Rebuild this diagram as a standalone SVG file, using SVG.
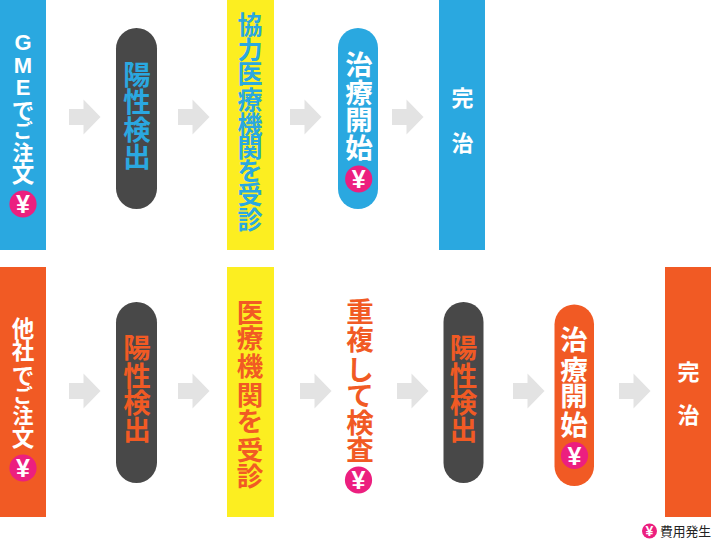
<svg xmlns="http://www.w3.org/2000/svg" width="711" height="540" viewBox="0 0 711 540" lang="ja">
<style>
text{font-family:"Noto Sans CJK JP","Noto Sans",sans-serif;font-weight:700;text-anchor:middle}
.b{fill:#2aa8e0}.o{fill:#f15a24}.y{fill:#fcee21}.d{fill:#484848}.p{fill:#ec1f7f}
.w{fill:#fff}.tb{fill:#2aa8e0}.to{fill:#f15a24}
.f27{font-size:27.500px}.f26{font-size:26.500px}.f25{font-size:25px}.f22{font-size:22.500px}.f21{font-size:22px}
.yen{font-family:"Liberation Sans",Arial,sans-serif;font-size:25px;fill:#fff}
.lat{font-family:"Liberation Sans",Arial,sans-serif;font-size:22px}
.a{fill:#e3e3e3}
</style>
<defs>
<path id="arr" d="M0-8H14.500V-17.500L31.500 0 14.500 17.500V8H0Z"/>
<g id="yc"><circle r="13.600" class="p"/><text y="9" class="yen">¥</text></g>
</defs>
<g id="connectors" class="a">
<use href="#arr" x="69" y="117"/><use href="#arr" x="178" y="117"/><use href="#arr" x="290" y="117"/><use href="#arr" x="392" y="117"/>
<use href="#arr" x="69" y="391"/><use href="#arr" x="178" y="391"/><use href="#arr" x="300" y="391"/><use href="#arr" x="397" y="391"/><use href="#arr" x="513" y="391"/><use href="#arr" x="619" y="391"/>
</g>
<g id="t1"><rect x="0" y="0" width="46" height="250" class="b"/>
<text class="w f22"><tspan class="lat" x="23" y="50">G</tspan><tspan class="lat" x="23" y="73">M</tspan><tspan class="lat" x="23" y="95">E</tspan><tspan x="23" y="118.500">で</tspan><tspan x="23" y="138" style="font-size:19.500px">ご</tspan><tspan x="23" y="159.500" style="font-size:21px">注</tspan><tspan x="23" y="182">文</tspan></text><use href="#yc" x="23" y="204"/></g>
<g id="t2"><rect x="116" y="28" width="41" height="181" rx="20.500" class="d"/>
<text x="137 137 137 137" y="85 111.500 140 167" class="tb f27">陽性検出</text></g>
<g id="t3"><rect x="227" y="0" width="47" height="250" class="y"/>
<text x="250 250 250 250 250 250 250 250 250" y="34 58.500 83 108.500 133.500 157 180 204 229" class="tb f25">協力医療機関を受診</text></g>
<g id="t4"><rect x="338" y="28" width="40" height="181" rx="20" class="b"/>
<text x="359 359 359 359" y="75 103 130 157.500" class="w f27">治療開始</text><use href="#yc" x="358.700" y="179"/></g>
<g id="t5"><rect x="439" y="0" width="46" height="250" class="b"/>
<text x="462.500 462.500" y="106 151" class="w f21">完治</text></g>
<g id="b1"><rect x="0" y="267" width="46" height="250" class="o"/>
<text class="w f22"><tspan x="23" y="337">他</tspan><tspan x="23" y="359">社</tspan><tspan x="23" y="384">で</tspan><tspan x="23" y="403" style="font-size:19.500px">ご</tspan><tspan x="23" y="423" style="font-size:21px">注</tspan><tspan x="23" y="446">文</tspan></text><use href="#yc" x="23" y="468"/></g>
<g id="b2"><rect x="116" y="302" width="41" height="181" rx="20.500" class="d"/>
<text x="137 137 137 137" y="358 386 413 440" class="to f27">陽性検出</text></g>
<g id="b3"><rect x="227" y="267" width="47" height="250" class="y"/>
<text x="250 250 250 250 250 250 250" y="322 348 376 405 431 460 486" class="to f26">医療機関を受診</text></g>
<g id="b4"><text x="360 360 360 360 360 360" y="322 350 380 406 433 460" class="to f27">重複して検査</text><use href="#yc" x="358.500" y="480"/></g>
<g id="b5"><rect x="443.500" y="302" width="40" height="181" rx="20" class="d"/>
<text x="463.500 463.500 463.500 463.500" y="358 386 413 440" class="to f27">陽性検出</text></g>
<g id="b6"><rect x="554.500" y="304.500" width="39.500" height="181.500" rx="19.750" class="o"/>
<text x="574 574 574 574" y="350 380 406 435" class="w f27">治療開始</text><use href="#yc" x="574.500" y="455.500"/></g>
<g id="b7"><rect x="665" y="267" width="46" height="250" class="o"/>
<text x="688.500 688.500" y="380 423" class="w f21">完治</text></g>
<g id="legend"><circle cx="649.500" cy="531" r="7.500" class="p"/><text x="649.500" y="536" style="font-family:'Liberation Sans',Arial,sans-serif;font-size:14px;fill:#fff">¥</text>
<text x="685.500" y="536" style="font-size:12.800px;font-weight:400;fill:#222">費用発生</text></g>
</svg>
